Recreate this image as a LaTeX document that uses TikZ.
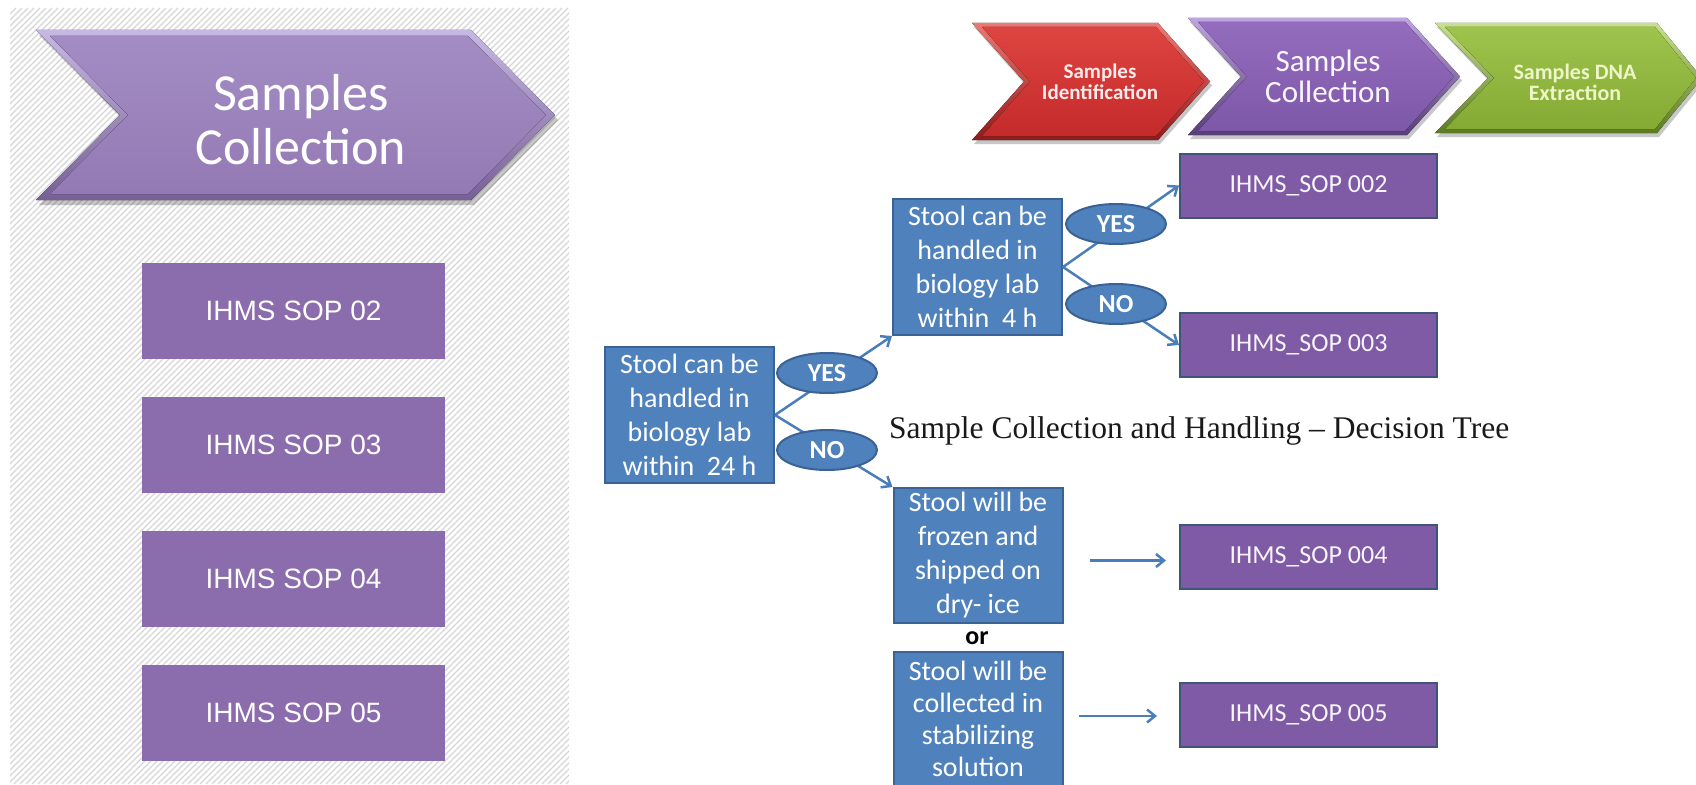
\documentclass[tikz,border=0pt]{standalone}
\usepackage{fontspec}
\setmainfont{Carlito}
\newfontfamily\arifont{Liberation Sans}
\newfontfamily\serfont{Liberation Serif}
\usetikzlibrary{shapes.geometric,arrows.meta,calc}

\definecolor{bigA}{RGB}{200,184,228}
\definecolor{bigB}{RGB}{118,96,150}
\definecolor{bigT}{RGB}{163,140,196}
\definecolor{bigM}{RGB}{148,122,180}
\definecolor{sopL}{RGB}{139,108,173}
\definecolor{hatchc}{RGB}{214,214,214}
\definecolor{boxblue}{RGB}{79,129,189}
\definecolor{boxedge}{RGB}{58,98,148}
\definecolor{arrblue}{RGB}{74,126,187}
\definecolor{sopR}{RGB}{127,91,166}
\definecolor{sopRedge}{RGB}{64,84,122}
\definecolor{redA}{RGB}{238,120,115}
\definecolor{redB}{RGB}{140,28,28}
\definecolor{redT}{RGB}{222,68,64}
\definecolor{redM}{RGB}{196,42,42}
\definecolor{purA}{RGB}{190,165,225}
\definecolor{purB}{RGB}{88,62,120}
\definecolor{purT}{RGB}{148,108,190}
\definecolor{purM}{RGB}{126,88,168}
\definecolor{grnA}{RGB}{198,226,140}
\definecolor{grnB}{RGB}{92,122,34}
\definecolor{grnT}{RGB}{158,196,78}
\definecolor{grnM}{RGB}{132,170,52}

\newcommand\chevfill[7]{\fill[#1] (#2,#5) -- (#3,#5) -- (#4,{(#5+#6)/2}) -- (#3,#6) -- (#2,#6) -- (#7,{(#5+#6)/2}) -- cycle;}

\begin{document}
\begin{tikzpicture}[x=1pt,y=-1pt,
  bluebox/.style={draw=boxedge, fill=boxblue, line width=2pt, text=white,
    font=\fontsize{28pt}{34pt}\selectfont, align=center,
    minimum width=169pt, minimum height=136pt, inner sep=0pt},
  lsop/.style={fill=sopL, text=white, font=\arifont\fontsize{28pt}{30pt}\selectfont,
    minimum width=303pt, minimum height=96pt, inner sep=0pt},
  rsop/.style={fill=sopR, draw=sopRedge, line width=2pt, text=white!94!sopR,
    font=\fontsize{26pt}{28pt}\selectfont, minimum width=257pt, minimum height=64pt, inner sep=0pt},
  yn/.style={ellipse, fill=boxblue, draw=boxedge, line width=2pt, text=white,
    font=\bfseries\fontsize{26pt}{26pt}\selectfont, minimum width=100pt, minimum height=40pt, inner sep=0pt},
  arr/.style={draw=arrblue, line width=2.5pt, -{Straight Barb[length=8pt,width=13pt]}},
  chevtext/.style={align=center, inner sep=0pt}
]
\useasboundingbox (0,0) rectangle (1696,784);
\fill[white] (0,0) rectangle (1696,784);
\clip (0,0) rectangle (1696,784);

% hatched left panel
\begin{scope}
  \clip (10,8) rectangle (569,784);
  \foreach \i in {-790,-784,...,570} \draw[hatchc, line width=1.2pt] (\i,784) -- ({\i+776},8);
\end{scope}

% big chevron
\chevfill{black,opacity=0.22,xshift=3pt,yshift=-5pt}{36}{471}{555}{30}{200}{120}
\chevfill{top color=bigA,bottom color=bigB}{36}{471}{555}{30}{200}{120}
\chevfill{top color=bigT,bottom color=bigM}{50}{468}{546}{36}{194}{128}
\node[chevtext, text=white, font=\fontsize{52pt}{54pt}\selectfont] (bigtxt) at (301,120) {Samples\\Collection};

% left SOP boxes
\node[lsop] (l2) at (293.5,311) {IHMS SOP 02};
\node[lsop] (l3) at (293.5,445) {IHMS SOP 03};
\node[lsop] (l4) at (293.5,579) {IHMS SOP 04};
\node[lsop] (l5) at (293.5,713) {IHMS SOP 05};

% process chevrons
\chevfill{black,opacity=0.22,xshift=2pt,yshift=-4pt}{972}{1158}{1210}{23}{140}{1024}
\chevfill{top color=redA,bottom color=redB}{972}{1158}{1210}{23}{140}{1024}
\chevfill{top color=redT,bottom color=redM}{982}{1156}{1204}{27}{136}{1030}
\node[chevtext, text=white!92!red, font=\bfseries\fontsize{21pt}{21pt}\selectfont] (tid) at (1100,82) {Samples\\Identification};

\chevfill{black,opacity=0.22,xshift=2pt,yshift=-4pt}{1188}{1407}{1460}{18}{135}{1241}
\chevfill{top color=purA,bottom color=purB}{1188}{1407}{1460}{18}{135}{1241}
\chevfill{top color=purT,bottom color=purM}{1198}{1405}{1454}{22}{131}{1247}
\node[chevtext, text=white!94!purT, font=\fontsize{31pt}{31pt}\selectfont] (tcol) at (1328,76) {Samples\\Collection};

\chevfill{black,opacity=0.22,xshift=2pt,yshift=-4pt}{1435}{1657}{1702}{23}{133}{1488}
\chevfill{top color=grnA,bottom color=grnB}{1435}{1657}{1702}{23}{133}{1488}
\chevfill{top color=grnT,bottom color=grnM}{1445}{1655}{1696}{27}{129}{1494}
\node[chevtext, text={rgb,255:red,238;green,246;blue,200}, font=\bfseries\fontsize{22pt}{21pt}\selectfont] (tdna) at (1575,82) {Samples DNA\\Extraction};

% decision tree boxes
\node[bluebox] (A) at (689.5,415) {Stool can be\\handled in\\biology lab\\within\ \ 24 h};
\node[bluebox] (B) at (977.5,267) {Stool can be\\handled in\\biology lab\\within\ \ 4 h};
\node[bluebox, minimum height=135pt] (C) at (978,555.5) {Stool will be\\frozen and\\shipped on\\dry- ice};
\node[bluebox, minimum height=135pt, font=\fontsize{28pt}{32pt}\selectfont] (D) at (978,719) {Stool will be\\collected in\\stabilizing\\solution};
\node[anchor=base, inner sep=0pt, font=\bfseries\fontsize{26pt}{26pt}\selectfont] (or) at (977,644) {or};

% SOP boxes right
\node[rsop] (S2) at (1308.5,185.5) {IHMS\_SOP 002};
\node[rsop] (S3) at (1308.5,345) {IHMS\_SOP 003};
\node[rsop] (S4) at (1308.5,556.5) {IHMS\_SOP 004};
\node[rsop] (S5) at (1308.5,715) {IHMS\_SOP 005};

% connectors
\draw[arr] (A.east) -- (B.south west);
\draw[arr] (A.east) -- (C.north west);
\draw[arr] (B.east) -- (S2.west);
\draw[arr] (B.east) -- (S3.west);
\draw[arr] ($(C.east)+(26,5)$) -- ($(C.east -| S4.west)+(-13,5)$);
\draw[arr] ($(D.east)+(15,-3)$) -- ($(D.east -| S5.west)+(-22,-3)$);

% decision labels
\node[yn] (y1) at (827,373) {YES};
\node[yn] (n1) at (827,450) {NO};
\node[yn] (y2) at (1116,224) {YES};
\node[yn] (n2) at (1116,304) {NO};

% caption
\node[anchor=base west, inner sep=0pt, text={rgb,255:red,25;green,25;blue,25}, font=\serfont\fontsize{31.5pt}{33pt}\selectfont] (cap) at (889,438) {Sample Collection and Handling – Decision Tree};
\end{tikzpicture}
\end{document}
